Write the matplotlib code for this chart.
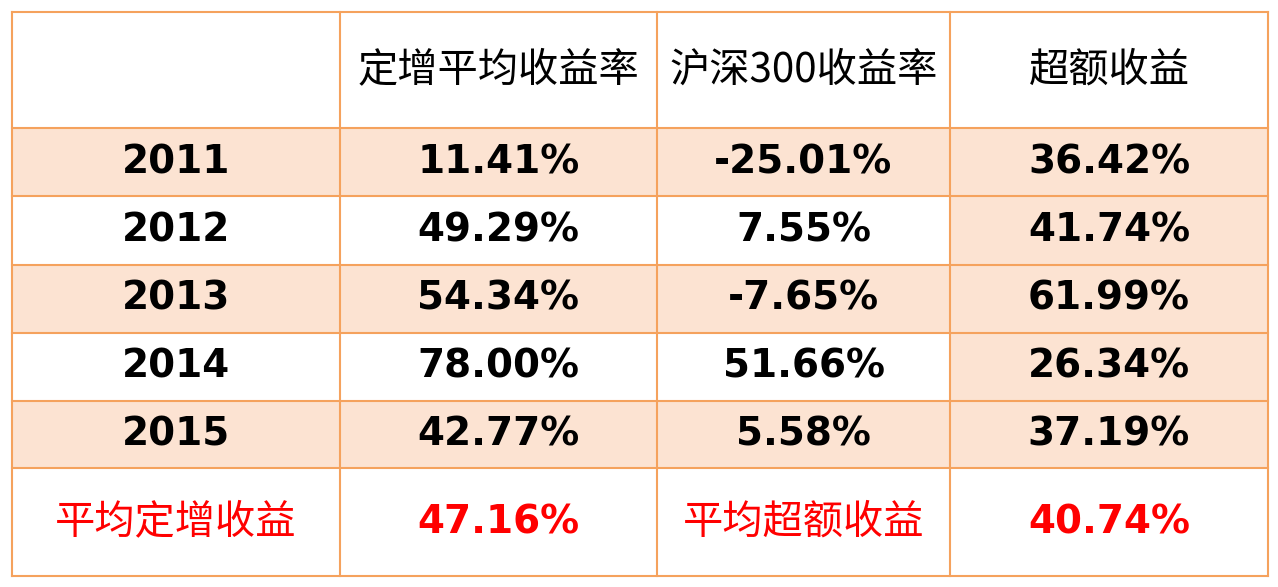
import matplotlib.pyplot as plt
from matplotlib.patches import Rectangle

plt.rcParams["font.family"] = ["Noto Sans CJK SC", "DejaVu Sans"]

headers = ["", "定增平均收益率", "沪深300收益率", "超额收益"]
years = ["2011", "2012", "2013", "2014", "2015"]
placement_ret = ["11.41%", "49.29%", "54.34%", "78.00%", "42.77%"]
hs300_ret = ["-25.01%", "7.55%", "-7.65%", "51.66%", "5.58%"]
excess_ret = ["36.42%", "41.74%", "61.99%", "26.34%", "37.19%"]
summary = ["平均定增收益", "47.16%", "平均超额收益", "40.74%"]

col_edges = [12, 340, 657, 950, 1268]
row_edges = [12, 128, 196, 265, 333, 401, 468, 576]
shade = "#FCE3D2"
border = "#F5A25D"

fig = plt.figure(figsize=(12.78, 5.87), dpi=100)
ax = fig.add_axes([0, 0, 1, 1])
ax.set_xlim(0, 1278)
ax.set_ylim(587, 0)
ax.axis("off")

def cell(r, c, text, fill=None, **kw):
    x0, x1 = col_edges[c], col_edges[c + 1]
    y0, y1 = row_edges[r], row_edges[r + 1]
    if fill:
        ax.add_patch(Rectangle((x0, y0), x1 - x0, y1 - y0, facecolor=fill, edgecolor="none", zorder=0))
    ax.text((x0 + x1) / 2, (y0 + y1) / 2, text, ha="center", va="center", **kw)

for c, h in enumerate(headers):
    cell(0, c, h, fontsize=29, color="black")

num = dict(fontsize=28, fontweight="bold", family=["DejaVu Sans"])
for i, yr in enumerate(years):
    r = i + 1
    row_fill = shade if i % 2 == 0 else None
    cell(r, 0, yr, row_fill, color="black", **num)
    cell(r, 1, placement_ret[i], row_fill, color="black", **num)
    cell(r, 2, hs300_ret[i], row_fill, color="black", **num)
    cell(r, 3, excess_ret[i], shade, color="black", **num)

red = "#FF0000"
cell(6, 0, summary[0], fontsize=29, color=red)
cell(6, 1, summary[1], color=red, **num)
cell(6, 2, summary[2], fontsize=29, color=red)
cell(6, 3, summary[3], color=red, **num)

for x in col_edges:
    ax.plot([x, x], [row_edges[0], row_edges[-1]], color=border, lw=1.5, zorder=2)
for y in row_edges:
    ax.plot([col_edges[0], col_edges[-1]], [y, y], color=border, lw=1.5, zorder=2)

fig.savefig("out.png", dpi=100)
